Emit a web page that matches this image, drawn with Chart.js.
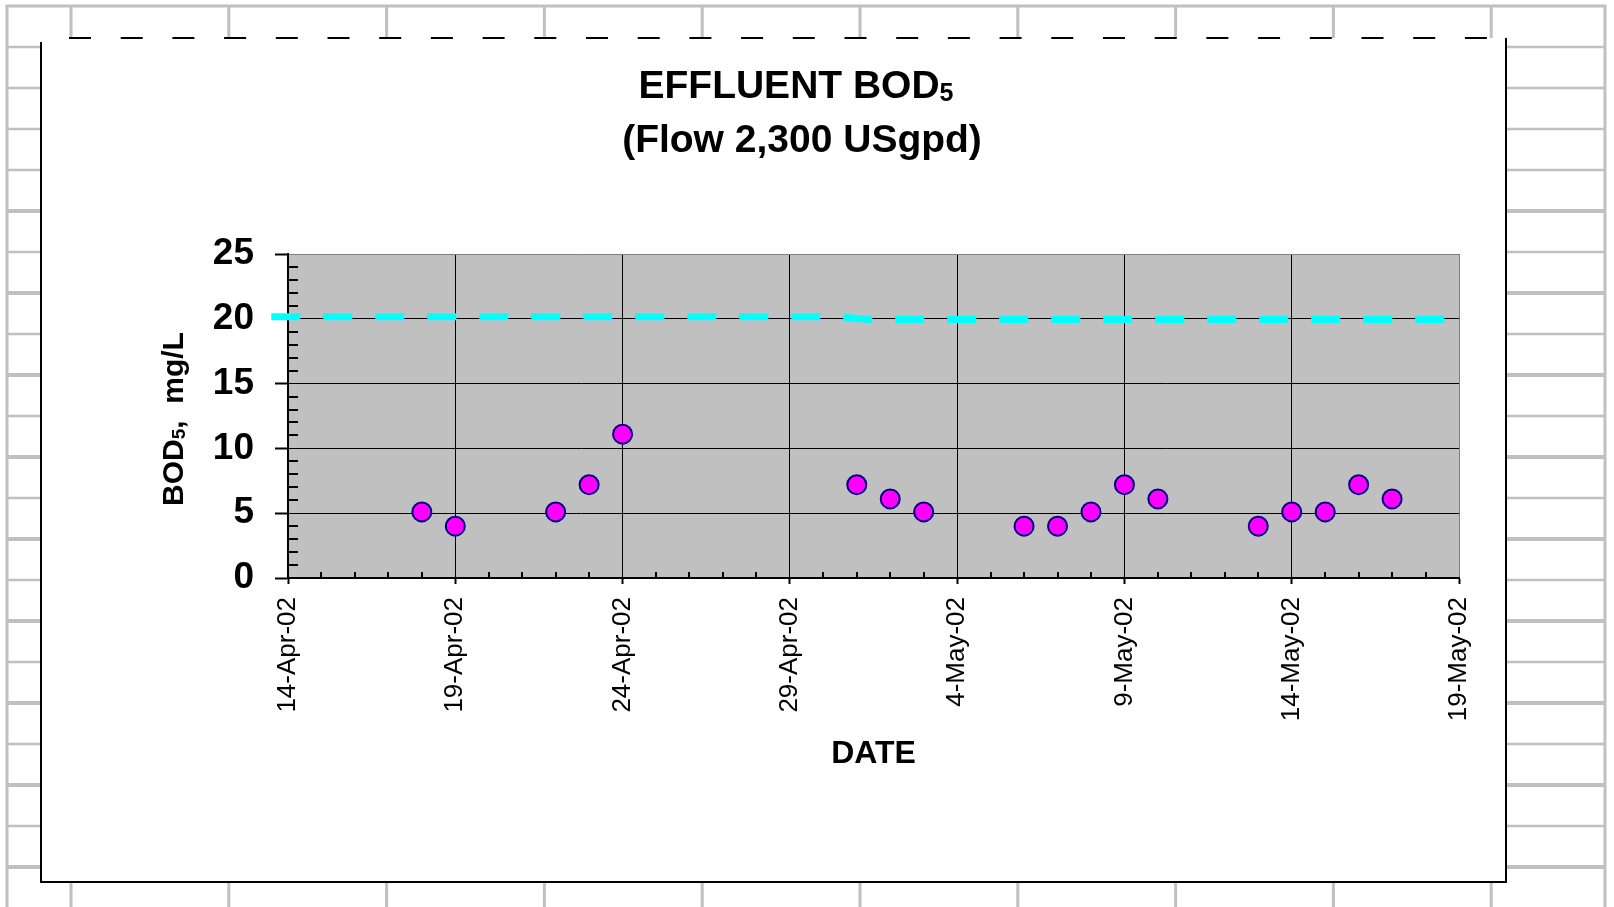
<!DOCTYPE html>
<html>
<head>
<meta charset="utf-8">
<title>Effluent BOD5</title>
<script src="https://cdn.jsdelivr.net/npm/chart.js@4.4.1/dist/chart.umd.min.js"></script>
<style>
  html, body { margin: 0; padding: 0; background: #fff; }
  #wrap { width: 1614px; height: 907px; }
</style>
</head>
<body>
<div id="wrap"><canvas id="bodChart" width="1614" height="907"></canvas></div>
<script>
// sample data
const sampleDates = ['2002-04-18', '2002-04-19', '2002-04-22', '2002-04-23', '2002-04-24',
  '2002-05-01', '2002-05-02', '2002-05-03', '2002-05-06', '2002-05-07', '2002-05-08',
  '2002-05-09', '2002-05-10', '2002-05-13', '2002-05-14', '2002-05-15', '2002-05-16', '2002-05-17'];
const bodValues = [5.1, 4.0, 5.1, 7.2, 11.1, 7.2, 6.1, 5.1, 4.0, 4.0, 5.1, 7.2, 6.1, 4.0, 5.1, 5.1, 7.2, 6.1];

// limit line (cyan dashed)
const limitDates = ['2002-04-13T12:00', '2002-04-30T12:00', '2002-05-01T09:00', '2002-05-19T02:00'];
const limitValues = [20.15, 20.15, 19.95, 19.95];

const axisStart = '2002-04-14';
const axisDays = 35;
const yMax = 25;
const MONTHS = ['Jan', 'Feb', 'Mar', 'Apr', 'May', 'Jun', 'Jul', 'Aug', 'Sep', 'Oct', 'Nov', 'Dec'];

const FONT = '"Liberation Sans", Arial, Helvetica, sans-serif';
const t0 = Date.parse(axisStart + 'T00:00Z');
const dayOf = s => (Date.parse((s.length === 10 ? s + 'T00:00' : s) + 'Z') - t0) / 86400000;
const fmtDay = v => {
  const d = new Date(t0 + v * 86400000);
  return d.getUTCDate() + '-' + MONTHS[d.getUTCMonth()] + '-' + String(d.getUTCFullYear()).slice(2);
};
const isMajor = v => Math.abs(v % 5) < 1e-9;

// spreadsheet cells + chart frame behind everything
const sheetPlugin = {
  id: 'sheet',
  beforeDraw(chart) {
    const c = chart.ctx, area = chart.chartArea;
    c.save();
    c.fillStyle = '#fff';
    c.fillRect(0, 0, chart.width, chart.height);
    c.strokeStyle = '#c0c0c0';
    // rows
    for (let k = 1; k <= 21; k++) {
      const y = 6 + 41 * k;
      c.lineWidth = (k >= 5 && k % 2 === 1) ? 4 : 2.6;
      c.beginPath(); c.moveTo(7, y); c.lineTo(1605, y); c.stroke();
    }
    // columns
    c.lineWidth = 3;
    for (let k = 0; k <= 9; k++) {
      const x = 71 + 157.8 * k;
      c.beginPath(); c.moveTo(x, 6); c.lineTo(x, 907); c.stroke();
    }
    c.beginPath();
    c.moveTo(7, 907); c.lineTo(7, 6); c.lineTo(1605, 6); c.lineTo(1605, 907);
    c.stroke();

    // chart box
    c.fillStyle = '#fff';
    c.fillRect(41, 38, 1466, 844);
    c.strokeStyle = '#000';
    c.lineWidth = 2;
    c.beginPath();
    c.moveTo(41, 42); c.lineTo(41, 882); c.lineTo(1506, 882); c.lineTo(1506, 38);
    c.stroke();
    c.setLineDash([22, 29.7]);
    c.beginPath(); c.moveTo(69, 38); c.lineTo(1507, 38); c.stroke();
    c.setLineDash([]);

    // plot area
    c.fillStyle = '#c0c0c0';
    c.fillRect(area.left, area.top, area.right - area.left, area.bottom - area.top);
    c.restore();
  }
};

// small inside ticks at each day / each mg/L
const minorTicksPlugin = {
  id: 'minorTicks',
  beforeDatasetsDraw(chart) {
    const c = chart.ctx, x = chart.scales.x, y = chart.scales.y, area = chart.chartArea;
    c.save();
    c.strokeStyle = '#000';
    c.lineWidth = 2;
    for (let d = 1; d < axisDays; d++) {
      if (isMajor(d)) continue;
      const px = Math.round(x.getPixelForValue(d));
      c.beginPath(); c.moveTo(px, area.bottom); c.lineTo(px, area.bottom - 6); c.stroke();
    }
    for (let v = 1; v < yMax; v++) {
      if (isMajor(v)) continue;
      const py = Math.round(y.getPixelForValue(v));
      c.beginPath(); c.moveTo(area.left, py); c.lineTo(area.left + 10, py); c.stroke();
    }
    c.restore();
  }
};

// text with a subscript part
function drawSub(c, x, y, parts, size) {
  let cx = x;
  parts.forEach(p => {
    const s = p.sub ? Math.round(size * 0.64) : size;
    c.font = 'bold ' + s + 'px ' + FONT;
    c.fillText(p.t, cx, y + (p.sub ? size * 0.08 : 0));
    cx += c.measureText(p.t).width;
  });
}
function widthOf(c, parts, size) {
  return parts.reduce((w, p) => {
    c.font = 'bold ' + (p.sub ? Math.round(size * 0.64) : size) + 'px ' + FONT;
    return w + c.measureText(p.t).width;
  }, 0);
}

const titlePlugin = {
  id: 'titles',
  afterDraw(chart) {
    const c = chart.ctx;
    c.save();
    c.fillStyle = '#000';
    c.textBaseline = 'alphabetic';
    c.textAlign = 'left';
    const line1 = [{ t: 'EFFLUENT BOD' }, { t: '5', sub: true }];
    const line2 = [{ t: '(Flow 2,300 USgpd)' }];
    drawSub(c, 796 - widthOf(c, line1, 39) / 2, 98, line1, 39);
    drawSub(c, 802 - widthOf(c, line2, 39) / 2, 152, line2, 39);

    const ytitle = [{ t: 'BOD' }, { t: '5', sub: true }, { t: ',  mg/L' }];
    const area = chart.chartArea;
    c.translate(183, (area.top + area.bottom) / 2 + 3);
    c.rotate(-Math.PI / 2);
    drawSub(c, -widthOf(c, ytitle, 30) / 2, 0, ytitle, 30);
    c.restore();
  }
};

new Chart(document.getElementById('bodChart'), {
  type: 'scatter',
  data: {
    datasets: [
      {
        type: 'line',
        label: 'Limit',
        data: limitDates.map((d, i) => ({ x: dayOf(d), y: limitValues[i] })),
        borderColor: '#00ffff',
        borderWidth: 7,
        borderDash: [29, 23],
        pointRadius: 0,
        fill: false,
        clip: false,
        order: 2
      },
      {
        label: 'BOD5',
        data: sampleDates.map((d, i) => ({ x: dayOf(d), y: bodValues[i] })),
        backgroundColor: '#ff00ff',
        borderColor: '#000080',
        borderWidth: 2,
        pointRadius: 9.5,
        order: 1
      }
    ]
  },
  options: {
    responsive: false,
    animation: false,
    devicePixelRatio: 1,
    layout: { padding: { left: 0, top: 254, right: 155, bottom: 132 } },
    plugins: { legend: { display: false }, tooltip: { enabled: false }, title: { display: false } },
    scales: {
      x: {
        type: 'linear',
        min: 0,
        max: axisDays,
        afterFit: s => { s.height = 197; },
        ticks: {
          stepSize: 1,
          autoSkip: false,
          minRotation: 90,
          maxRotation: 90,
          padding: 13,
          color: '#000',
          font: { family: FONT, size: 26 },
          callback: v => isMajor(v) ? fmtDay(v) : ''
        },
        grid: {
          color: c => c.tick.value === axisDays ? '#808080' : (isMajor(c.tick.value) ? '#000' : 'rgba(0,0,0,0)'),
          lineWidth: 1,
          tickLength: 6,
          tickWidth: 2,
          tickColor: c => isMajor(c.tick.value) ? '#000' : 'rgba(0,0,0,0)'
        },
        border: { color: '#000', width: 2 },
        title: {
          display: true,
          text: 'DATE',
          color: '#000',
          font: { family: FONT, size: 32, weight: 'bold' },
          padding: { top: 0, bottom: 2 }
        }
      },
      y: {
        min: 0,
        max: yMax,
        afterFit: s => { s.width = 288; },
        ticks: {
          stepSize: 1,
          autoSkip: false,
          padding: 21,
          color: '#000',
          font: { family: FONT, size: 37, weight: 'bold' },
          callback: v => isMajor(v) ? String(v) : ''
        },
        grid: {
          color: c => c.tick.value === yMax ? '#808080' : (isMajor(c.tick.value) ? '#000' : 'rgba(0,0,0,0)'),
          lineWidth: 1,
          tickLength: 13,
          tickWidth: 2,
          tickColor: c => isMajor(c.tick.value) ? '#000' : 'rgba(0,0,0,0)'
        },
        border: { color: '#000', width: 2 }
      }
    }
  },
  plugins: [sheetPlugin, minorTicksPlugin, titlePlugin]
});
</script>
</body>
</html>
